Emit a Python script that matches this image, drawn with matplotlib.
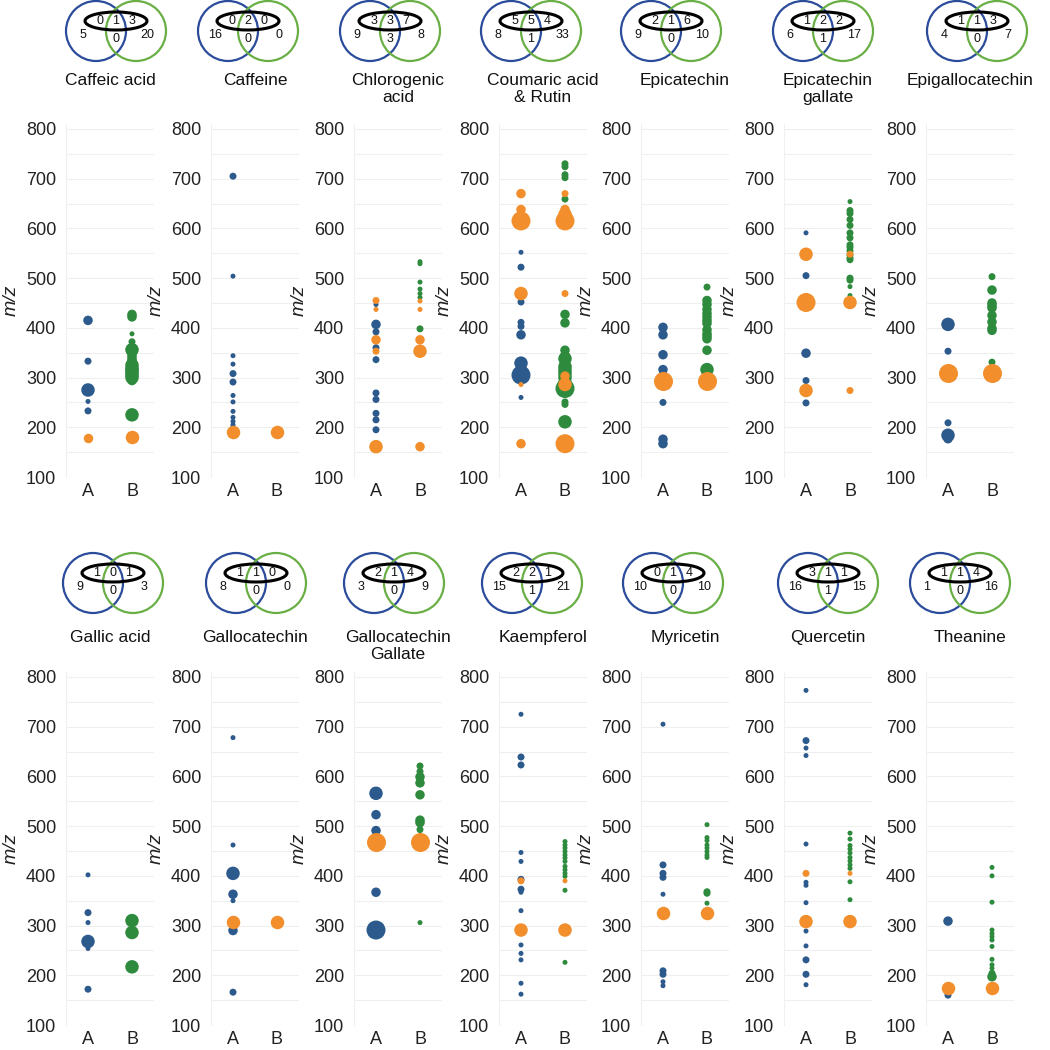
import matplotlib
matplotlib.use("Agg")
import matplotlib.pyplot as plt
from matplotlib.patches import Circle, Ellipse

plt.rcParams['font.family'] = ['Liberation Sans', 'DejaVu Sans']

# compound names (panel titles)
compounds = ["Caffeic acid", "Caffeine", "Chlorogenic\nacid", "Coumaric acid\n& Rutin",
             "Epicatechin", "Epicatechin\ngallate", "Epigallocatechin",
             "Gallic acid", "Gallocatechin", "Gallocatechin\nGallate", "Kaempferol",
             "Myricetin", "Quercetin", "Theanine"]

# venn counts: A only, std&A, std&A&B, std&B, A&B, B only
venn_counts = [[5, 0, 1, 3, 0, 20], [16, 0, 2, 0, 0, 0], [9, 3, 3, 7, 3, 8],
               [8, 5, 5, 4, 1, 33], [9, 2, 1, 6, 0, 10], [6, 1, 2, 2, 1, 17],
               [4, 1, 1, 3, 0, 7], [9, 1, 0, 1, 0, 3], [8, 1, 1, 0, 0, 0],
               [3, 2, 1, 4, 0, 9], [15, 2, 2, 1, 1, 21], [10, 0, 1, 4, 0, 10],
               [16, 3, 1, 1, 1, 15], [1, 1, 1, 4, 0, 16]]

# features: (m/z, abundance level 1-5, matched to standard 0/1)
caffeic_a = [(415, 3, 0), (333, 2, 0), (275, 4, 0), (252, 1, 0), (233, 2, 0), (179, 3, 1)]
caffeic_b = [(427, 3, 0), (422, 3, 0), (388, 1, 0), (372, 2, 0), (356, 4, 0), (345, 3, 0),
             (340, 3, 0), (335, 3, 0), (330, 3, 0), (325, 4, 0), (318, 4, 0), (315, 4, 0),
             (310, 4, 0), (305, 4, 0), (300, 4, 0), (294, 3, 0), (225, 4, 0), (180, 4, 1)]
caffeine_a = [(705, 2, 0), (504, 1, 0), (344, 1, 0), (327, 1, 0), (308, 2, 0), (291, 2, 0),
              (264, 1, 0), (251, 1, 0), (232, 1, 0), (220, 1, 0), (212, 1, 0), (205, 1, 0),
              (200, 1, 0), (197, 1, 0), (190, 4, 1)]
caffeine_b = [(190, 4, 1)]
chlorogenic_a = [(447, 1, 0), (407, 3, 0), (392, 2, 0), (360, 2, 0), (336, 2, 0), (269, 2, 0),
                 (256, 2, 0), (228, 2, 0), (215, 2, 0), (195, 2, 0),
                 (455, 2, 1), (437, 1, 1), (376, 3, 1), (353, 2, 1), (161, 4, 1)]
chlorogenic_b = [(533, 1, 0), (529, 1, 0), (492, 1, 0), (478, 1, 0), (469, 1, 0), (461, 1, 0),
                 (398, 2, 0), (454, 1, 1), (437, 1, 1), (376, 3, 1), (353, 4, 1), (161, 3, 1)]
coumaric_a = [(552, 1, 0), (522, 2, 0), (452, 2, 0), (411, 2, 0), (403, 2, 0), (386, 3, 0),
              (329, 4, 0), (312, 4, 0), (305, 5, 0), (260, 1, 0),
              (670, 3, 1), (638, 3, 1), (626, 3, 1), (615, 5, 1), (469, 4, 1), (286, 1, 1), (167, 3, 1)]
coumaric_b = [(730, 2, 0), (724, 2, 0), (708, 2, 0), (702, 2, 0), (659, 2, 0), (427, 3, 0),
              (410, 3, 0), (355, 3, 0), (345, 3, 0), (338, 4, 0), (330, 3, 0), (322, 4, 0),
              (315, 4, 0), (308, 4, 0), (300, 4, 0), (290, 4, 0), (278, 5, 0), (251, 2, 0),
              (246, 2, 0), (211, 4, 0),
              (670, 2, 1), (638, 3, 1), (628, 4, 1), (615, 5, 1), (469, 2, 1), (303, 3, 1),
              (286, 4, 1), (167, 5, 1)]
epicatechin_a = [(401, 3, 0), (396, 2, 0), (386, 3, 0), (346, 3, 0), (316, 3, 0), (310, 2, 0),
                 (250, 2, 0), (176, 3, 0), (167, 3, 0), (293, 5, 1)]
epicatechin_b = [(482, 2, 0), (455, 3, 0), (447, 3, 0), (437, 3, 0), (429, 3, 0), (422, 3, 0),
                 (415, 3, 0), (409, 3, 0), (396, 3, 0), (388, 3, 0), (383, 3, 0), (378, 3, 0),
                 (355, 3, 0), (316, 4, 0), (293, 5, 1)]
ecg_a = [(591, 1, 0), (505, 2, 0), (349, 3, 0), (294, 2, 0), (249, 2, 0),
         (548, 4, 1), (451, 5, 1), (274, 4, 1)]
ecg_b = [(654, 1, 0), (636, 2, 0), (630, 2, 0), (618, 2, 0), (606, 2, 0), (591, 2, 0),
         (581, 2, 0), (567, 2, 0), (562, 2, 0), (555, 2, 0), (547, 2, 0), (541, 2, 0),
         (537, 2, 0), (500, 2, 0), (496, 2, 0), (483, 1, 0), (465, 1, 0),
         (548, 2, 1), (451, 4, 1), (274, 2, 1)]
egc_a = [(407, 4, 0), (353, 2, 0), (209, 2, 0), (184, 4, 0), (177, 3, 0), (310, 5, 1)]
egc_b = [(503, 2, 0), (476, 3, 0), (450, 3, 0), (445, 3, 0), (440, 3, 0), (425, 3, 0),
         (412, 3, 0), (399, 3, 0), (395, 3, 0), (331, 2, 0), (310, 5, 1)]
gallic_a = [(402, 1, 0), (326, 2, 0), (306, 1, 0), (268, 4, 0), (254, 1, 0), (172, 2, 0)]
gallic_b = [(310, 4, 0), (286, 4, 0), (217, 4, 0)]
gallocatechin_a = [(678, 1, 0), (462, 1, 0), (405, 4, 0), (363, 3, 0), (350, 1, 0), (290, 3, 0),
                   (166, 2, 0), (308, 4, 1)]
gallocatechin_b = [(308, 4, 1)]
gcg_a = [(566, 4, 0), (523, 3, 0), (491, 3, 0), (367, 3, 0), (291, 5, 0), (468, 5, 1)]
gcg_b = [(621, 2, 0), (610, 2, 0), (599, 3, 0), (587, 3, 0), (563, 3, 0), (512, 3, 0),
         (507, 3, 0), (493, 2, 0), (306, 1, 0), (468, 5, 1)]
kaempferol_a = [(725, 1, 0), (639, 2, 0), (623, 2, 0), (447, 1, 0), (429, 1, 0), (393, 2, 0),
                (373, 2, 0), (367, 1, 0), (330, 1, 0), (261, 1, 0), (244, 1, 0), (231, 1, 0),
                (184, 1, 0), (162, 1, 0), (390, 2, 1), (291, 4, 1)]
kaempferol_b = [(469, 1, 0), (462, 1, 0), (456, 1, 0), (449, 1, 0), (442, 1, 0), (436, 1, 0),
                (429, 1, 0), (419, 1, 0), (412, 1, 0), (405, 1, 0), (399, 1, 0), (371, 1, 0),
                (226, 1, 0), (390, 1, 1), (291, 4, 1)]
myricetin_a = [(705, 1, 0), (422, 2, 0), (405, 2, 0), (397, 2, 0), (363, 1, 0), (209, 2, 0),
               (202, 2, 0), (187, 1, 0), (179, 1, 0), (325, 4, 1)]
myricetin_b = [(503, 1, 0), (477, 1, 0), (471, 1, 0), (462, 1, 0), (456, 1, 0), (449, 1, 0),
               (442, 1, 0), (437, 1, 0), (368, 2, 0), (365, 2, 0), (345, 1, 0), (325, 4, 1)]
quercetin_a = [(773, 1, 0), (672, 2, 0), (657, 1, 0), (642, 1, 0), (464, 1, 0), (387, 1, 0),
               (381, 1, 0), (346, 1, 0), (289, 1, 0), (259, 1, 0), (231, 2, 0), (202, 2, 0),
               (181, 1, 0), (405, 2, 1), (308, 4, 1)]
quercetin_b = [(486, 1, 0), (474, 1, 0), (461, 1, 0), (454, 1, 0), (446, 1, 0), (437, 1, 0),
               (430, 1, 0), (422, 1, 0), (415, 1, 0), (388, 1, 0), (352, 1, 0),
               (405, 1, 1), (308, 4, 1)]
theanine_a = [(309, 3, 0), (160, 2, 0), (175, 4, 1)]
theanine_b = [(417, 1, 0), (400, 1, 0), (347, 1, 0), (291, 1, 0), (284, 1, 0), (278, 1, 0),
              (271, 1, 0), (258, 1, 0), (232, 1, 0), (221, 1, 0), (214, 1, 0), (204, 2, 0),
              (197, 3, 0), (175, 4, 1)]

samples_a = [caffeic_a, caffeine_a, chlorogenic_a, coumaric_a, epicatechin_a, ecg_a, egc_a,
             gallic_a, gallocatechin_a, gcg_a, kaempferol_a, myricetin_a, quercetin_a, theanine_a]
samples_b = [caffeic_b, caffeine_b, chlorogenic_b, coumaric_b, epicatechin_b, ecg_b, egc_b,
             gallic_b, gallocatechin_b, gcg_b, kaempferol_b, myricetin_b, quercetin_b, theanine_b]

# styles / layout (pixels)
BLUE, GREEN, ORANGE = '#2C5A8C', '#2E8B3E', '#F28E2B'
VENN_BLUE, VENN_GREEN = '#2B4C9B', '#6AAF45'
level_px = {1: 5, 2: 7, 3: 9.5, 4: 13.5, 5: 19}

W = H = 1050
col_left = [66, 211, 354, 499, 641, 784, 926]
axes_w, axes_h = 88, 353
row_top = [124, 672]
title_top = [73, 630]
venn_cy = [31, 583]
venn_cx = [[116, 248, 390, 531, 671, 823, 977],
           [113, 256, 394, 532, 673, 828, 960]]

fig = plt.figure(figsize=(10.5, 10.5), dpi=100)

# overlay for venn diagrams
ov = fig.add_axes([0, 0, 1, 1])
ov.set_xlim(0, W)
ov.set_ylim(H, 0)
ov.axis('off')


def draw_points(ax, x, feats, color):
    for matched, col in [(0, color), (1, ORANGE)]:
        pts = [f for f in feats if f[2] == matched]
        if not pts:
            continue
        ax.scatter([x] * len(pts), [p[0] for p in pts],
                   s=[(level_px[p[1]] * 0.72) ** 2 for p in pts],
                   color=col, linewidths=0, zorder=3 + matched)


for i, name in enumerate(compounds):
    row, col = divmod(i, 7)
    left, top = col_left[col], row_top[row]
    ax = fig.add_axes([left / W, 1 - (top + axes_h) / H, axes_w / W, axes_h / H])
    ax.set_xlim(-0.5, 1.5)
    ax.set_ylim(100, 810)
    ax.set_xticks([0, 1])
    ax.set_xticklabels(['A', 'B'])
    ax.set_yticks(range(100, 801, 100))
    ax.set_yticks(range(150, 801, 100), minor=True)
    ax.grid(axis='y', which='both', color='#efefef', lw=0.8, zorder=0)
    ax.tick_params(which='both', length=0, labelsize=13, colors='#222222')
    ax.tick_params(axis='y', pad=7)
    ax.tick_params(axis='x', pad=4)
    for s in ['top', 'right', 'bottom']:
        ax.spines[s].set_visible(False)
    ax.spines['left'].set_color('#f0f0f0')
    ax.set_ylabel('m/z', style='italic', fontsize=14, color='#222222')
    ax.yaxis.set_label_coords(-46 / axes_w, 0.5)

    draw_points(ax, 0, samples_a[i], BLUE)
    draw_points(ax, 1, samples_b[i], GREEN)

    fig.text((left + axes_w / 2) / W, 1 - title_top[row] / H, name,
             ha='center', va='top', fontsize=12.5, color='#111111', linespacing=1.15)

    # venn
    cx, cy = venn_cx[row][col], venn_cy[row]
    ey = cy - 10
    ov.add_patch(Circle((cx - 20, cy), 30, fill=False, ec=VENN_BLUE, lw=1.6))
    ov.add_patch(Circle((cx + 20, cy), 30, fill=False, ec=VENN_GREEN, lw=1.6))
    ov.add_patch(Ellipse((cx, ey), 62, 18, fill=False, ec='black', lw=2.2))
    c = venn_counts[i]
    spots = [(cx - 33, cy + 4), (cx - 16, ey), (cx, ey), (cx + 16, ey), (cx, cy + 8), (cx + 31, cy + 4)]
    for (tx, ty), v in zip(spots, c):
        ov.text(tx, ty, str(v), ha='center', va='center', fontsize=9, color='#111111')

fig.savefig('out.png', dpi=100)
